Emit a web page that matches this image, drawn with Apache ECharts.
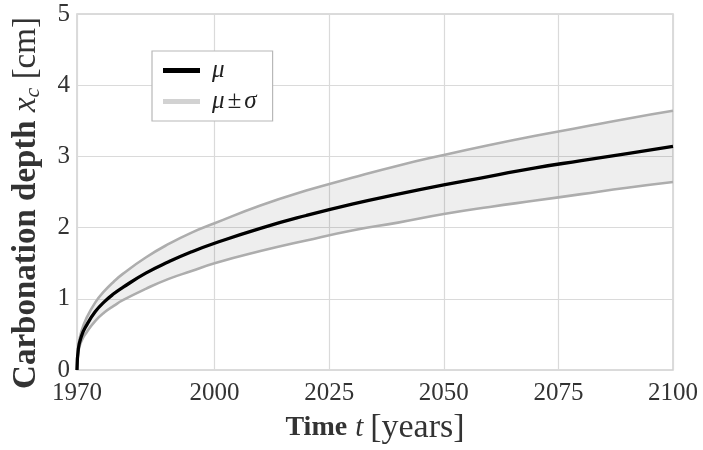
<!DOCTYPE html>
<html><head><meta charset="utf-8">
<script src="https://cdn.jsdelivr.net/npm/echarts@6/dist/echarts.min.js"></script>
<style>html,body{margin:0;padding:0;background:#fff}#c{width:703px;height:450px}</style>
</head><body><div id="c"></div>
<script>
const years = [1970, 1970.3, 1971, 1972, 1974, 1976, 1978, 1980, 1985, 1990, 1995, 2000, 2010, 2020, 2030, 2040, 2050, 2060, 2070, 2080, 2090, 2100];
const meanVals = [0, 0.30, 0.48, 0.62, 0.82, 0.96, 1.07, 1.16, 1.36, 1.52, 1.66, 1.78, 1.99, 2.17, 2.33, 2.47, 2.60, 2.72, 2.84, 2.94, 3.04, 3.14];
const upperVals = [0, 0.34, 0.55, 0.72, 0.95, 1.11, 1.24, 1.35, 1.58, 1.77, 1.93, 2.06, 2.31, 2.52, 2.70, 2.87, 3.02, 3.16, 3.29, 3.41, 3.53, 3.64];
const lowerVals = [0, 0.26, 0.41, 0.52, 0.69, 0.81, 0.90, 0.98, 1.14, 1.28, 1.39, 1.50, 1.67, 1.82, 1.96, 2.07, 2.19, 2.29, 2.38, 2.47, 2.56, 2.64];
const xTicks = [1970, 2000, 2025, 2050, 2075, 2100];
const yTicks = [0, 1, 2, 3, 4, 5];

const pair = (a) => years.map((y, i) => [y, a[i]]);
const FONT = 'Liberation Serif';
const TXT = '#333';
const chart = echarts.init(document.getElementById('c'), null, {renderer: 'canvas'});
chart.setOption({
  animation: false,
  grid: {left: 77, right: 30, top: 14, bottom: 79, show: true, borderColor: '#cfcfcf', borderWidth: 1.5},
  legend: {
    left: 152, top: 51, orient: 'vertical', itemGap: 6,
    padding: [7, 16, 7, 11],
    borderColor: '#b8b8b8', borderWidth: 1.2, backgroundColor: '#fff',
    icon: 'rect', itemWidth: 37, itemHeight: 5,
    formatter: (n) => n === 'μ' ? '{a|μ}' : '{a|μ}{b|±}{a|σ}',
    textStyle: {fontFamily: FONT, fontStyle: 'italic', fontSize: 25, color: '#222', padding: [0, 0, 0, 7],
      rich: {
        a: {fontFamily: FONT, fontStyle: 'italic', fontSize: 25, color: '#222'},
        b: {fontFamily: FONT, fontSize: 25, color: '#222', padding: [0, 3, 0, 3]}
      }},
    data: ['μ', 'μ±σ']
  },
  xAxis: {
    type: 'value', min: 1970, max: 2100,
    axisLine: {show: false},
    axisTick: {show: false, customValues: xTicks},
    axisLabel: {customValues: xTicks, formatter: (v) => String(v), fontFamily: FONT, fontSize: 25, color: TXT, margin: 11},
    splitLine: {show: true, lineStyle: {color: '#dadada', width: 1.2}},
    name: '{b|Time }{i|t}{n|[years]}', nameLocation: 'middle', nameGap: 41,
    nameTextStyle: {rich: {
      b: {fontFamily: FONT, fontWeight: 'bold', fontSize: 28, color: TXT},
      i: {fontFamily: FONT, fontStyle: 'italic', fontSize: 29, color: TXT, padding: [0, 7, 0, 1]},
      n: {fontFamily: FONT, fontSize: 34, color: TXT}
    }}
  },
  yAxis: {
    type: 'value', min: 0, max: 5, interval: 1,
    axisLine: {show: false}, axisTick: {show: false},
    axisLabel: {fontFamily: FONT, fontSize: 25, color: TXT, margin: 7},
    splitLine: {show: true, lineStyle: {color: '#dadada', width: 1.2}},
    name: '{b|Carbonation depth }{i|x}{s|c}{n| [cm]}', nameLocation: 'middle', nameGap: 33, nameRotate: 90,
    nameTextStyle: {padding: [0, 22, 0, 0], rich: {
      b: {fontFamily: FONT, fontWeight: 'bold', fontSize: 33, color: TXT},
      i: {fontFamily: FONT, fontStyle: 'italic', fontSize: 33, color: TXT},
      s: {fontFamily: FONT, fontStyle: 'italic', fontSize: 22, color: TXT, padding: [13, 0, 0, 0]},
      n: {fontFamily: FONT, fontSize: 33, color: TXT}
    }}
  },
  series: [
    {name: 'band', type: 'custom', silent: true, z: 1, clip: true,
     data: [0],
     renderItem: (params, api) => {
       const pts = [];
       for (let i = 0; i < years.length; i++) pts.push(api.coord([years[i], upperVals[i]]));
       for (let i = years.length - 1; i >= 0; i--) pts.push(api.coord([years[i], lowerVals[i]]));
       return {type: 'polygon', shape: {points: pts}, style: {fill: 'rgba(0,0,0,0.065)', stroke: null}};
     }},
    {name: 'μ±σ', type: 'line', data: pair(upperVals), showSymbol: false, symbol: 'none', smooth: true,
     itemStyle: {color: '#d2d2d2'}, lineStyle: {color: '#adadad', width: 2.6}, z: 2},
    {name: 'μ±σ', type: 'line', data: pair(lowerVals), showSymbol: false, symbol: 'none', smooth: true,
     itemStyle: {color: '#d2d2d2'}, lineStyle: {color: '#adadad', width: 2.6}, z: 2},
    {name: 'μ', type: 'line', data: pair(meanVals), showSymbol: false, symbol: 'none', smooth: true,
     itemStyle: {color: '#000'}, lineStyle: {color: '#000', width: 3.3}, z: 3}
  ]
});
</script></body></html>
